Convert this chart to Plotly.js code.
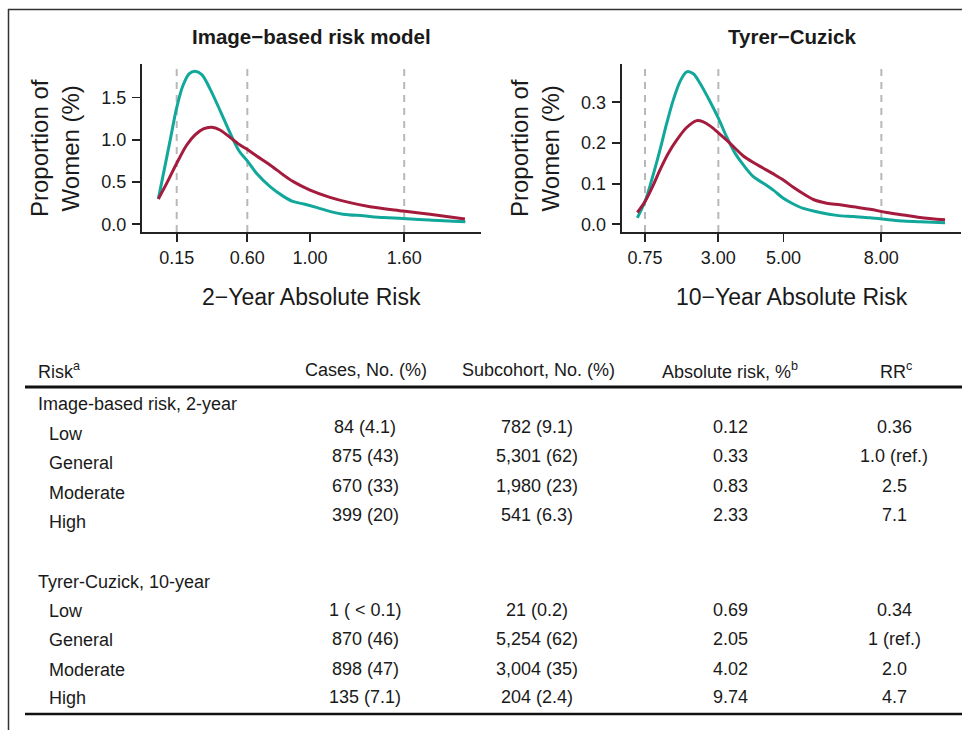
<!DOCTYPE html>
<html>
<head>
<meta charset="utf-8">
<script src="https://cdn.plot.ly/plotly-3.0.1.min.js"></script>
<style>
html, body { margin: 0; padding: 0; background: #ffffff; }
#chart { width: 962px; height: 730px; }
</style>
</head>
<body>
<div id="chart"></div>
<script>
// ---------- Data: Image-based risk model (2-year absolute risk) ----------
const imgSubX = [0.033, 0.07, 0.11, 0.15, 0.19, 0.23, 0.267, 0.31, 0.36, 0.43, 0.49, 0.55, 0.60, 0.66, 0.745, 0.83, 0.89, 0.96, 1.04, 1.13, 1.21, 1.34, 1.47, 1.59, 1.76, 1.99];
const imgSubY = [0.30, 0.64, 1.01, 1.38, 1.64, 1.78, 1.81, 1.77, 1.61, 1.33, 1.08, 0.86, 0.75, 0.60, 0.445, 0.33, 0.27, 0.24, 0.20, 0.15, 0.12, 0.10, 0.08, 0.07, 0.05, 0.03];
const imgCaseX = [0.033, 0.086, 0.15, 0.214, 0.267, 0.32, 0.373, 0.426, 0.49, 0.554, 0.596, 0.66, 0.745, 0.83, 0.893, 1.0, 1.127, 1.254, 1.382, 1.594, 1.764, 1.987];
const imgCaseY = [0.30, 0.484, 0.721, 0.937, 1.056, 1.127, 1.146, 1.115, 1.028, 0.937, 0.89, 0.807, 0.701, 0.583, 0.504, 0.405, 0.319, 0.256, 0.208, 0.157, 0.118, 0.063];
const imgCutoffs = [0.15, 0.60, 1.60];
const imgTickVals = [0.15, 0.60, 1.00, 1.60];
const imgTickText = ['0.15', '0.60', '1.00', '1.60'];
const imgYTickVals = [0, 0.5, 1.0, 1.5];
const imgYTickText = ['0.0', '0.5', '1.0', '1.5'];

// ---------- Data: Tyrer-Cuzick (10-year absolute risk) ----------
const tcSubX = [0.515, 0.75, 0.955, 1.21, 1.415, 1.619, 1.824, 2.028, 2.233, 2.437, 2.693, 3.0, 3.255, 3.511, 3.766, 4.073, 4.38, 4.686, 4.993, 5.3, 5.607, 6.118, 6.629, 7.14, 7.652, 8.163, 8.674, 9.186, 9.953];
const tcSubY = [0.016, 0.056, 0.109, 0.183, 0.248, 0.306, 0.351, 0.375, 0.370, 0.347, 0.310, 0.261, 0.215, 0.175, 0.146, 0.117, 0.101, 0.084, 0.064, 0.050, 0.039, 0.029, 0.022, 0.019, 0.016, 0.012, 0.008, 0.006, 0.004];
const tcCaseX = [0.515, 0.75, 1.006, 1.21, 1.466, 1.721, 2.028, 2.335, 2.539, 2.744, 3.0, 3.255, 3.511, 3.766, 4.073, 4.38, 4.686, 4.993, 5.3, 5.607, 5.913, 6.322, 6.732, 7.14, 7.652, 8.163, 8.674, 9.186, 9.953];
const tcCaseY = [0.029, 0.056, 0.097, 0.134, 0.175, 0.207, 0.238, 0.255, 0.252, 0.242, 0.225, 0.207, 0.187, 0.168, 0.152, 0.138, 0.124, 0.109, 0.091, 0.075, 0.061, 0.052, 0.048, 0.043, 0.037, 0.029, 0.023, 0.017, 0.011];
const tcCutoffs = [0.75, 3.00, 8.00];
const tcTickVals = [0.75, 3.00, 5.00, 8.00];
const tcTickText = ['0.75', '3.00', '5.00', '8.00'];
const tcYTickVals = [0, 0.1, 0.2, 0.3];
const tcYTickText = ['0.0', '0.1', '0.2', '0.3'];

// ---------- Table ----------
const tableHeaders = ['Risk<sup>a</sup>', 'Cases, No. (%)', 'Subcohort, No. (%)', 'Absolute risk, %<sup>b</sup>', 'RR<sup>c</sup>'];
const sectionTitles = ['Image-based risk, 2-year', 'Tyrer-Cuzick, 10-year'];
const riskLevels = ['Low', 'General', 'Moderate', 'High'];
const imgCasesCol = ['84 (4.1)', '875 (43)', '670 (33)', '399 (20)'];
const imgSubcohortCol = ['782 (9.1)', '5,301 (62)', '1,980 (23)', '541 (6.3)'];
const imgAbsRiskCol = ['0.12', '0.33', '0.83', '2.33'];
const imgRRCol = ['0.36', '1.0 (ref.)', '2.5', '7.1'];
const tcCasesCol = ['1 ( &lt; 0.1)', '870 (46)', '898 (47)', '135 (7.1)'];
const tcSubcohortCol = ['21 (0.2)', '5,254 (62)', '3,004 (35)', '204 (2.4)'];
const tcAbsRiskCol = ['0.69', '2.05', '4.02', '9.74'];
const tcRRCol = ['0.34', '1 (ref.)', '2.0', '4.7'];

// ---------- Styling / layout ----------
const W = 962, H = 730;
const FONT = 'Liberation Sans, Arial, Helvetica, sans-serif';
const TEAL = '#11a89b';
const CRIMSON = '#a51b3d';
const INK = '#1a1a1a';
const px = x => x / W;
const py = y => 1 - y / H;

const traces = [
  { x: imgSubX, y: imgSubY, xaxis: 'x', yaxis: 'y', mode: 'lines', name: 'Subcohort',
    line: { color: TEAL, width: 3, shape: 'spline', smoothing: 0.9 }, hoverinfo: 'skip' },
  { x: imgCaseX, y: imgCaseY, xaxis: 'x', yaxis: 'y', mode: 'lines', name: 'Cases',
    line: { color: CRIMSON, width: 3, shape: 'spline', smoothing: 0.9 }, hoverinfo: 'skip' },
  { x: tcSubX, y: tcSubY, xaxis: 'x2', yaxis: 'y2', mode: 'lines', name: 'Subcohort',
    line: { color: TEAL, width: 3, shape: 'spline', smoothing: 0.9 }, hoverinfo: 'skip' },
  { x: tcCaseX, y: tcCaseY, xaxis: 'x2', yaxis: 'y2', mode: 'lines', name: 'Cases',
    line: { color: CRIMSON, width: 3, shape: 'spline', smoothing: 0.9 }, hoverinfo: 'skip' }
];

const axisCommon = {
  showline: true, linecolor: '#222', linewidth: 2,
  ticks: 'outside', ticklen: 8, tickwidth: 1.8, tickcolor: '#222',
  showgrid: false, zeroline: false, tickmode: 'array',
  tickfont: { family: FONT, size: 18, color: INK }, fixedrange: true
};

const yDomain = [1 - 232 / H, 1 - 64 / H];

const layout = {
  width: W, height: H,
  margin: { l: 0, r: 0, t: 0, b: 0 },
  paper_bgcolor: '#ffffff', plot_bgcolor: 'rgba(0,0,0,0)',
  showlegend: false,
  xaxis: Object.assign({}, axisCommon, { domain: [142 / W, 481 / W], range: [-0.0712, 2.0895],
    tickvals: imgTickVals, ticktext: imgTickText, anchor: 'y' }),
  yaxis: Object.assign({}, axisCommon, { domain: yDomain, range: [-0.091, 1.8948],
    tickvals: imgYTickVals, ticktext: imgYTickText, anchor: 'x', ticklabelstandoff: 2 }),
  xaxis2: Object.assign({}, axisCommon, { domain: [621.7 / W, 961 / W], range: [0.0353, 10.443],
    tickvals: tcTickVals, ticktext: tcTickText, anchor: 'y2' }),
  yaxis2: Object.assign({}, axisCommon, { domain: yDomain, range: [-0.0189, 0.3942],
    tickvals: tcYTickVals, ticktext: tcYTickText, anchor: 'x2', ticklabelstandoff: 2 }),
  shapes: [],
  annotations: []
};

// cutoff dashed lines
imgCutoffs.forEach(c => layout.shapes.push({ type: 'line', xref: 'x', yref: 'y domain', x0: c, x1: c, y0: 0, y1: 1,
  layer: 'below', line: { color: '#b8b8b8', width: 2, dash: '7px,6px' } }));
tcCutoffs.forEach(c => layout.shapes.push({ type: 'line', xref: 'x2', yref: 'y2 domain', x0: c, x1: c, y0: 0, y1: 1,
  layer: 'below', line: { color: '#b8b8b8', width: 2, dash: '7px,6px' } }));

// frame
layout.shapes.push({ type: 'line', xref: 'paper', yref: 'paper', x0: px(8), x1: px(962), y0: py(9.5), y1: py(9.5), line: { color: '#333', width: 1.5 } });
layout.shapes.push({ type: 'line', xref: 'paper', yref: 'paper', x0: px(8.5), x1: px(8.5), y0: py(9), y1: py(730), line: { color: '#333', width: 1.5 } });
// table rules
layout.shapes.push({ type: 'line', xref: 'paper', yref: 'paper', x0: px(25), x1: px(962), y0: py(387), y1: py(387), line: { color: '#111', width: 3 } });
layout.shapes.push({ type: 'line', xref: 'paper', yref: 'paper', x0: px(25), x1: px(962), y0: py(714), y1: py(714), line: { color: '#111', width: 2.5 } });

function txt(text, x, y, opts) {
  return Object.assign({ xref: 'paper', yref: 'paper', x: px(x), y: py(y), text: text, showarrow: false,
    xanchor: 'center', yanchor: 'middle', font: { family: FONT, size: 18, color: INK } }, opts || {});
}
const A = layout.annotations;

// panel titles
A.push(txt('<b>Image\u2212based risk model</b>', 311.5, 37, { font: { family: FONT, size: 20.5, color: INK } }));
A.push(txt('<b>Tyrer\u2212Cuzick</b>', 791.5, 37, { font: { family: FONT, size: 20.5, color: INK } }));
// x-axis titles
A.push(txt('2\u2212Year Absolute Risk', 311.5, 297, { font: { family: FONT, size: 23, color: INK } }));
A.push(txt('10\u2212Year Absolute Risk', 791.5, 297, { font: { family: FONT, size: 23, color: INK } }));
// y-axis titles
A.push(txt('Proportion of<br>Women (%)', 55, 148, { textangle: -90, font: { family: FONT, size: 24, color: INK } }));
A.push(txt('Proportion of<br>Women (%)', 535, 148, { textangle: -90, font: { family: FONT, size: 24, color: INK } }));

// table header
const colCenters = [365, 537, 730, 894];
A.push(txt(tableHeaders[0], 36, 370, { xanchor: 'left' }));
A.push(txt(tableHeaders[1], 366, 370));
A.push(txt(tableHeaders[2], 538, 370));
A.push(txt(tableHeaders[3], 730, 370));
A.push(txt(tableHeaders[4], 896, 370));

// section 1
A.push(txt(sectionTitles[0], 36, 404, { xanchor: 'left' }));
const s1Label = [434, 463, 492.5, 521.5];
const s1Val = [427, 456, 485.5, 514.5];
const s1Cols = [imgCasesCol, imgSubcohortCol, imgAbsRiskCol, imgRRCol];
riskLevels.forEach((lv, i) => {
  A.push(txt(lv, 47, s1Label[i], { xanchor: 'left' }));
  s1Cols.forEach((col, j) => A.push(txt(col[i], colCenters[j], s1Val[i])));
});
// section 2
A.push(txt(sectionTitles[1], 36, 582, { xanchor: 'left' }));
const s2Label = [611, 640, 670, 698];
const s2Val = [610, 639, 669, 697];
const s2Cols = [tcCasesCol, tcSubcohortCol, tcAbsRiskCol, tcRRCol];
riskLevels.forEach((lv, i) => {
  A.push(txt(lv, 47, s2Label[i], { xanchor: 'left' }));
  s2Cols.forEach((col, j) => A.push(txt(col[i], colCenters[j], s2Val[i])));
});

Plotly.newPlot('chart', traces, layout, { staticPlot: true, displayModeBar: false });
</script>
</body>
</html>
